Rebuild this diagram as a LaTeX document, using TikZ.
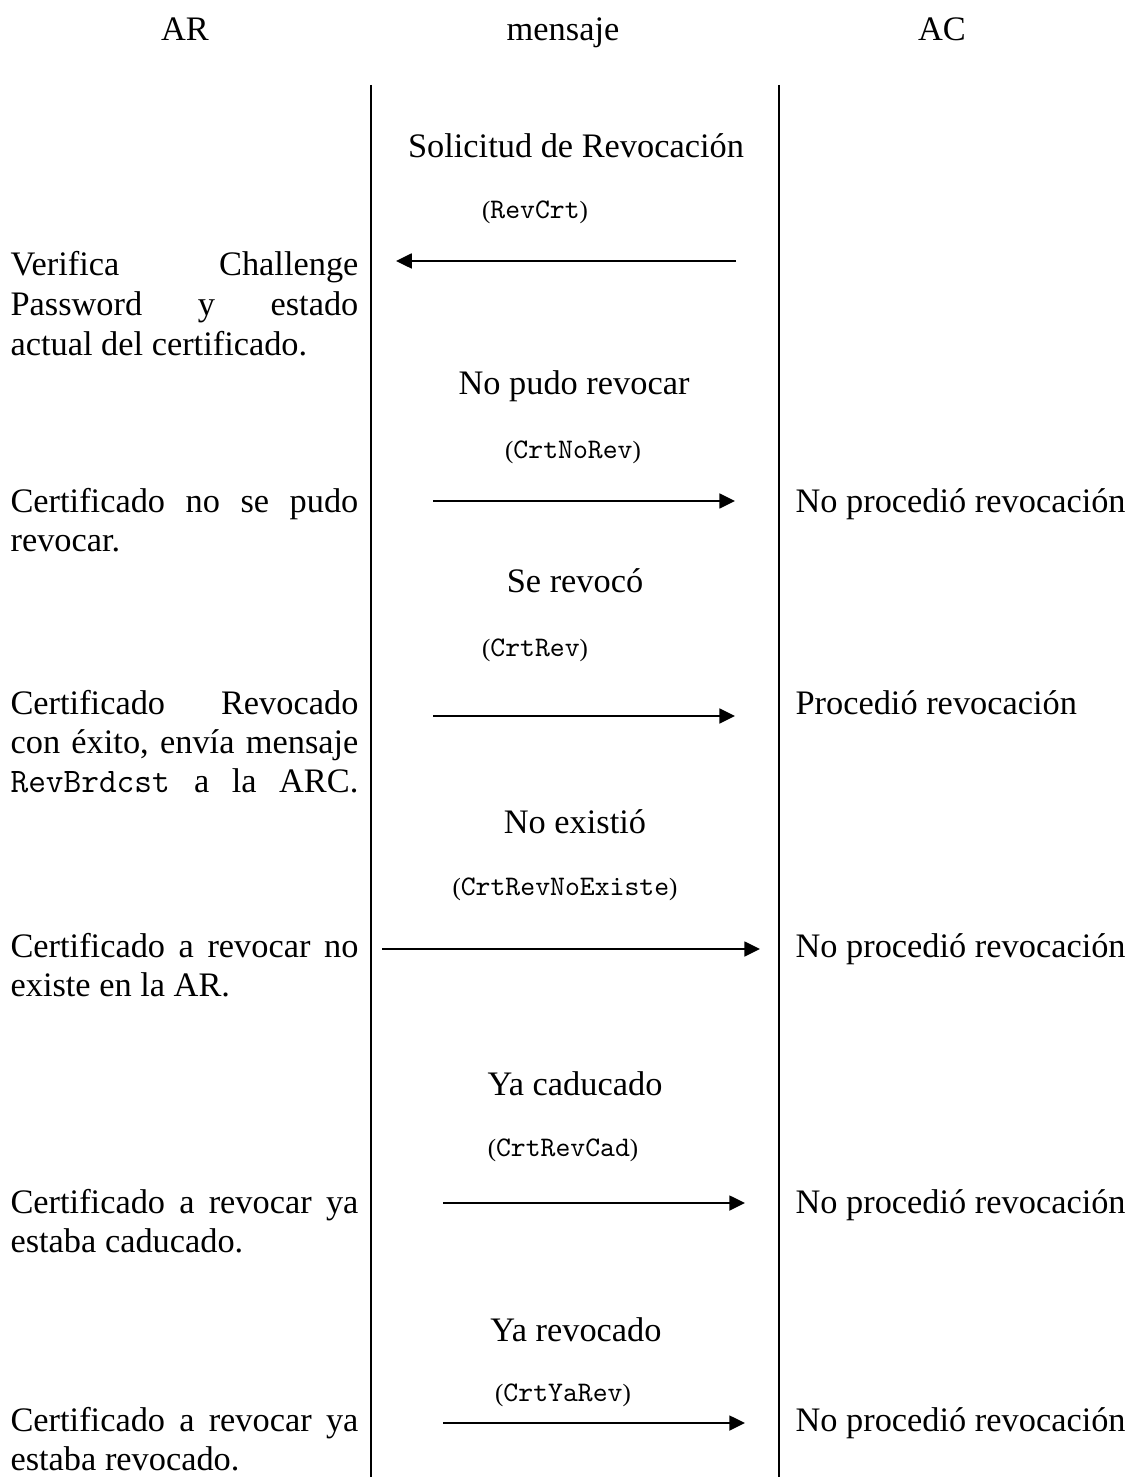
\documentclass[tikz,border=0pt]{standalone}
\usepackage{fontspec}
\setmainfont{Liberation Serif}
\setmonofont{Latin Modern Mono}
\usetikzlibrary{arrows.meta}

% width of the justified description column on the left
\newlength\colw
\setlength\colw{121.5pt}
% message code in parentheses, e.g. (RevCrt)
\newcommand\msgcode[1]{{\fontsize{8.7}{10}\selectfont(\fontsize{9.9}{10}\selectfont\texttt{#1}\fontsize{8.7}{10}\selectfont)}}
% justified line spanning the left column
\newcommand\jline[1]{\hbox to\colw{#1}}

\begin{document}
\begin{tikzpicture}[x=0.3493pt,y=-0.3493pt,
  txt/.style={font=\fontsize{12}{14}\selectfont, inner sep=0pt},
  ctr/.style={txt, anchor=base},
  lft/.style={txt, anchor=base west},
  life/.style={line width=0.75pt},
  msg/.style={line width=0.75pt, -{Triangle[length=5.5pt,width=5.2pt]}}]

\useasboundingbox (0,0) rectangle (1130,1477);

% column headers
\node[ctr] (hAR)  at (185,41) {AR};
\node[ctr] (hMsg) at (563,41) {mensaje};
\node[ctr] (hAC)  at (942,41) {AC};

% lifelines separating the three columns
\coordinate (l1top) at (371,85);
\coordinate (l1bot) at (371,1477);
\coordinate (l2top) at (779,85);
\coordinate (l2bot) at (779,1477);
\draw[life] (l1top) -- (l1bot);
\draw[life] (l2top) -- (l2bot);

% ---- revocation request
\node[ctr] (t1)  at (576,158) {Solicitud de Revocación};
\node[ctr] (c1)  at (535,219) {\msgcode{RevCrt}};
\coordinate (a1s) at (736,261);
\coordinate (a1e) at (396,261);
\draw[msg] (a1s) -- (a1e);
\node[lft] (L1a) at (10,276) {\jline{Verifica\hfill Challenge}};
\node[lft] (L1b) at (10,316) {\jline{Password\hfill y\hfill estado}};
\node[lft] (L1c) at (10,356) {actual del certificado.};

% ---- could not revoke
\node[ctr] (t2)  at (574,395) {No pudo revocar};
\node[ctr] (c2)  at (573,459) {\msgcode{CrtNoRev}};
\coordinate (a2s) at (433,501);
\coordinate (a2e) at (735,501);
\draw[msg] (a2s) -- (a2e);
\node[lft] (L2a) at (10,513) {\jline{Certificado\hfill no\hfill se\hfill pudo}};
\node[lft] (L2b) at (10,552) {revocar.};
\node[lft] (R2)  at (795,513) {No procedió revocación};

% ---- revoked
\node[ctr] (t3)  at (575,593) {Se revocó};
\node[ctr] (c3)  at (535,657) {\msgcode{CrtRev}};
\coordinate (a3s) at (433,716);
\coordinate (a3e) at (735,716);
\draw[msg] (a3s) -- (a3e);
\node[lft] (L3a) at (10,714) {\jline{Certificado\hfill Revocado}};
\node[lft] (L3b) at (10,753) {\jline{con\hfill éxito,\hfill envía\hfill mensaje}};
\node[lft] (L3c) at (10,792) {\jline{{\fontsize{12}{13}\selectfont\texttt{RevBrdcst}}\hspace{0.2em plus 1fill}a\hspace{0.15em plus 1fill}la\hspace{0.15em plus 1fill}ARC.}};
\node[lft] (R3)  at (795,714) {Procedió revocación};

% ---- did not exist
\node[ctr] (t4)  at (575,833) {No existió};
\node[ctr] (c4)  at (565,895) {\msgcode{CrtRevNoExiste}};
\coordinate (a4s) at (382,949);
\coordinate (a4e) at (760,949);
\draw[msg] (a4s) -- (a4e);
\node[lft] (L4a) at (10,957) {\jline{Certificado\hfill a\hfill revocar\hfill no}};
\node[lft] (L4b) at (10,996) {existe en la AR.};
\node[lft] (R4)  at (795,957) {No procedió revocación};

% ---- already expired
\node[ctr] (t5)  at (575,1095) {Ya caducado};
\node[ctr] (c5)  at (563,1156) {\msgcode{CrtRevCad}};
\coordinate (a5s) at (443,1203);
\coordinate (a5e) at (745,1203);
\draw[msg] (a5s) -- (a5e);
\node[lft] (L5a) at (10,1213) {\jline{Certificado\hfill a\hfill revocar\hfill ya}};
\node[lft] (L5b) at (10,1252) {estaba caducado.};
\node[lft] (R5)  at (795,1213) {No procedió revocación};

% ---- already revoked
\node[ctr] (t6)  at (576,1341) {Ya revocado};
\node[ctr] (c6)  at (563,1401) {\msgcode{CrtYaRev}};
\coordinate (a6s) at (443,1423);
\coordinate (a6e) at (745,1423);
\draw[msg] (a6s) -- (a6e);
\node[lft] (L6a) at (10,1431) {\jline{Certificado\hfill a\hfill revocar\hfill ya}};
\node[lft] (L6b) at (10,1470) {estaba revocado.};
\node[lft] (R6)  at (795,1431) {No procedió revocación};

\end{tikzpicture}
\end{document}
